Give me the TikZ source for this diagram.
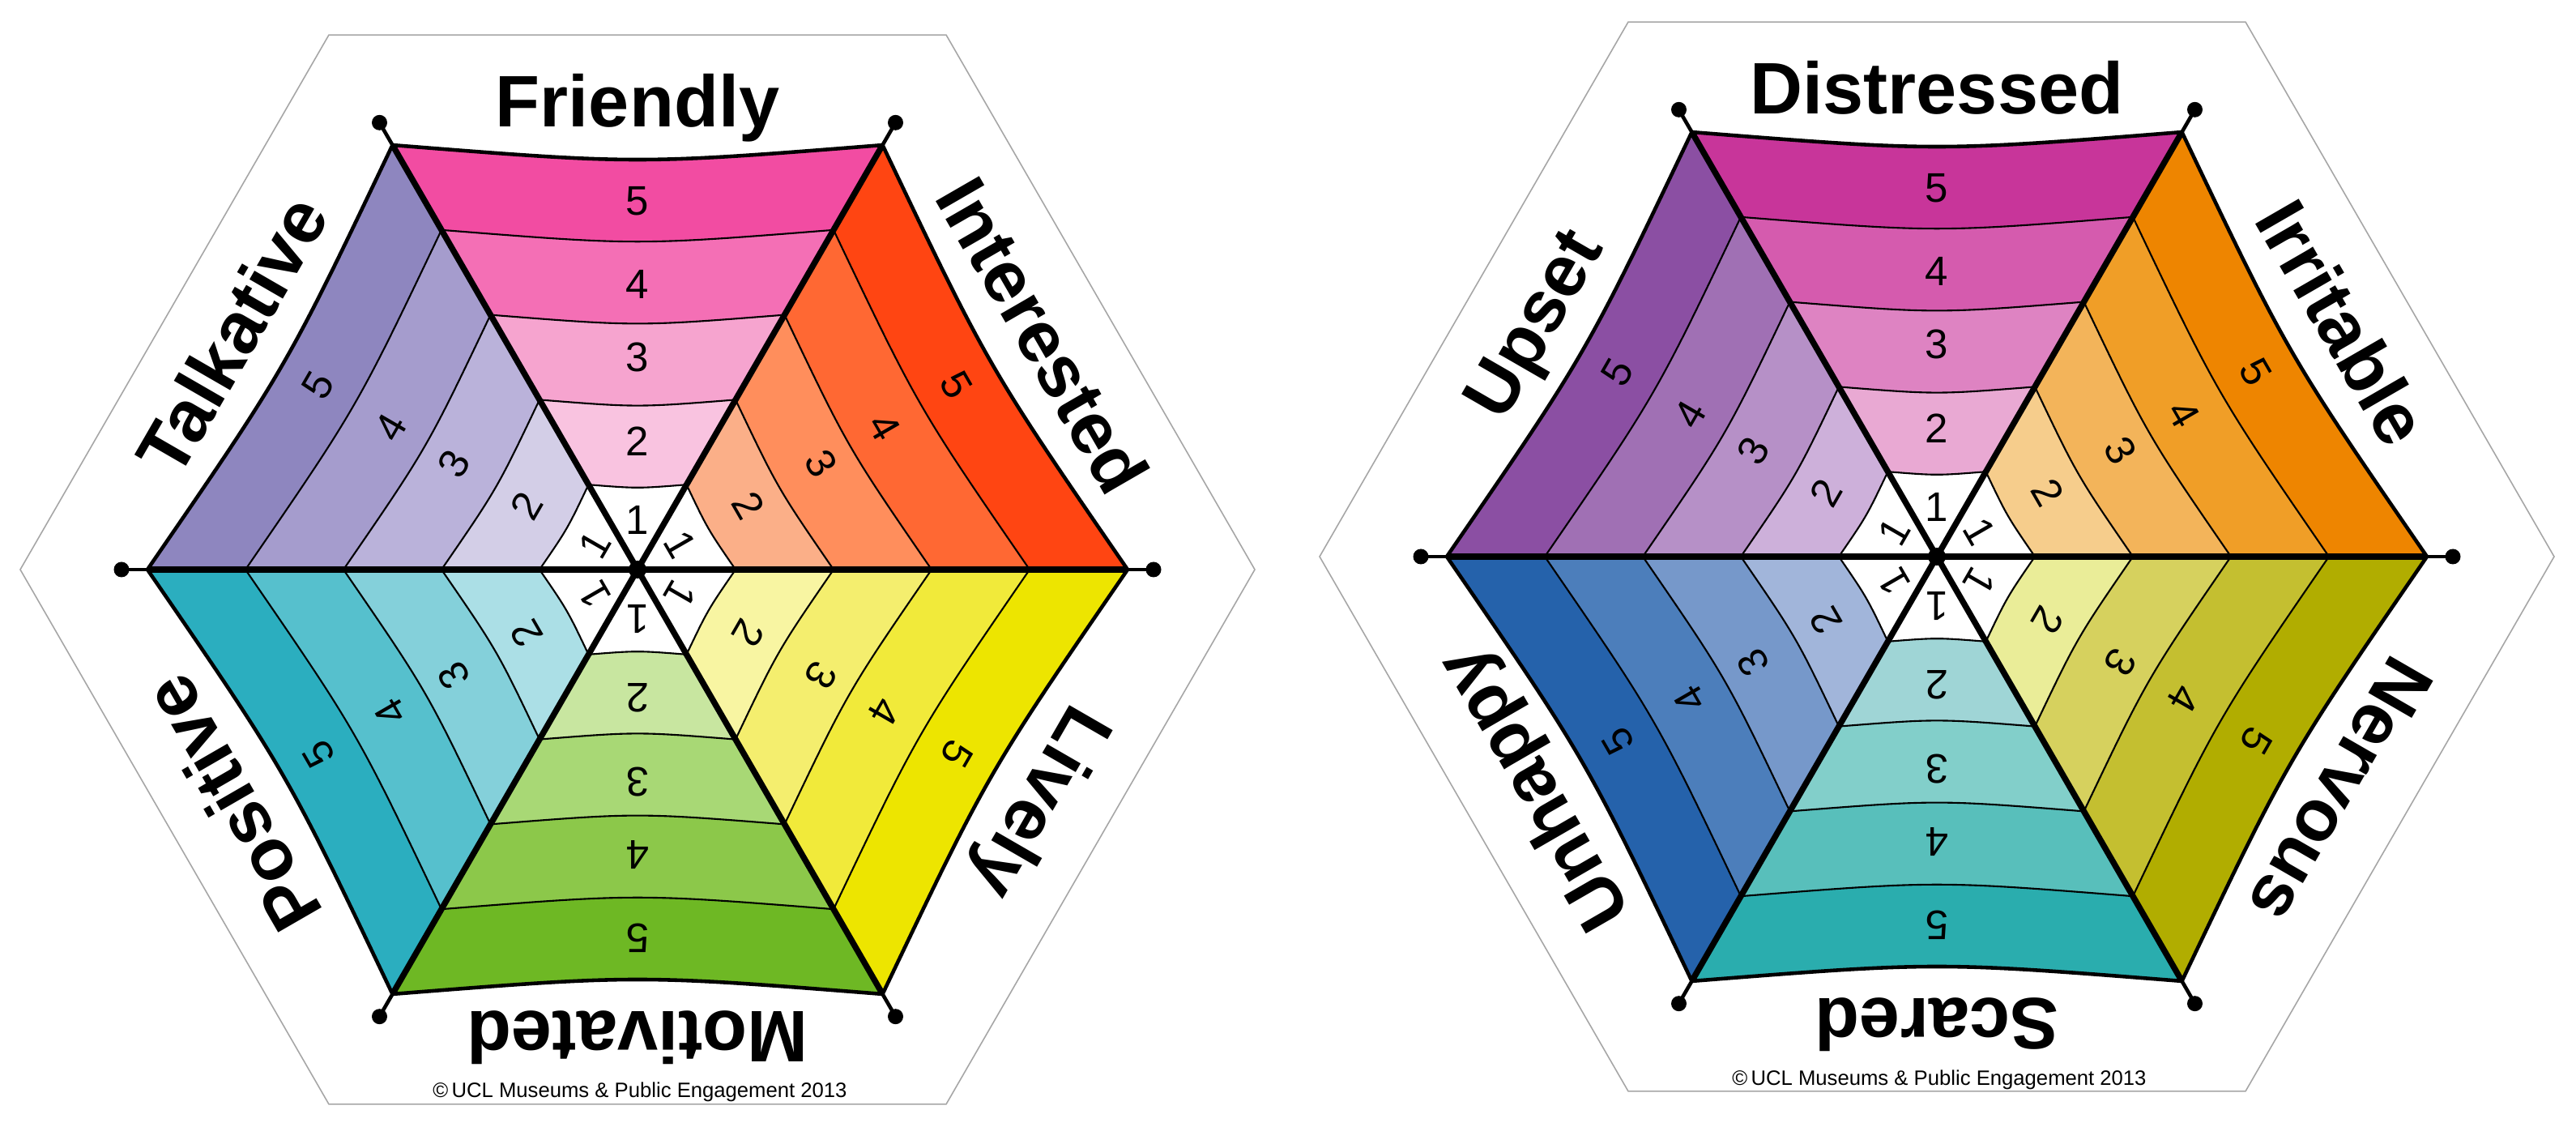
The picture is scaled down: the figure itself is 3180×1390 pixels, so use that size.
\documentclass[tikz,border=0pt]{standalone}
\usepackage{fontspec}
\setmainfont{Liberation Sans}
% left wheel colours
\definecolor{Fr1}{HTML}{FFFFFF}\definecolor{Fr2}{HTML}{F9C3E0}\definecolor{Fr3}{HTML}{F6A4CF}\definecolor{Fr4}{HTML}{F46FB5}\definecolor{Fr5}{HTML}{F24CA2}
\definecolor{In1}{HTML}{FFFFFF}\definecolor{In2}{HTML}{FBAF88}\definecolor{In3}{HTML}{FF8E5C}\definecolor{In4}{HTML}{FF6833}\definecolor{In5}{HTML}{FF4512}
\definecolor{Li1}{HTML}{FFFFFF}\definecolor{Li2}{HTML}{F8F5A2}\definecolor{Li3}{HTML}{F4EE6E}\definecolor{Li4}{HTML}{F1EA3A}\definecolor{Li5}{HTML}{EDE500}
\definecolor{Mo1}{HTML}{FFFFFF}\definecolor{Mo2}{HTML}{C8E6A0}\definecolor{Mo3}{HTML}{A8D875}\definecolor{Mo4}{HTML}{8CC84A}\definecolor{Mo5}{HTML}{6EB824}
\definecolor{Po1}{HTML}{FFFFFF}\definecolor{Po2}{HTML}{ABDFE6}\definecolor{Po3}{HTML}{84D0DA}\definecolor{Po4}{HTML}{56C0CD}\definecolor{Po5}{HTML}{2BAEBF}
\definecolor{Ta1}{HTML}{FFFFFF}\definecolor{Ta2}{HTML}{D3CEE7}\definecolor{Ta3}{HTML}{BAB2DA}\definecolor{Ta4}{HTML}{A59CCD}\definecolor{Ta5}{HTML}{8E86BF}
% right wheel colours
\definecolor{Di1}{HTML}{FFFFFF}\definecolor{Di2}{HTML}{E9A9D3}\definecolor{Di3}{HTML}{DE83C2}\definecolor{Di4}{HTML}{D55BAE}\definecolor{Di5}{HTML}{C8359A}
\definecolor{Ir1}{HTML}{FFFFFF}\definecolor{Ir2}{HTML}{F6CD8C}\definecolor{Ir3}{HTML}{F3B45A}\definecolor{Ir4}{HTML}{F09E27}\definecolor{Ir5}{HTML}{EE8500}
\definecolor{Ne1}{HTML}{FFFFFF}\definecolor{Ne2}{HTML}{EAED98}\definecolor{Ne3}{HTML}{D6D15E}\definecolor{Ne4}{HTML}{C4BF30}\definecolor{Ne5}{HTML}{B1AD00}
\definecolor{Sc1}{HTML}{FFFFFF}\definecolor{Sc2}{HTML}{9FD5D6}\definecolor{Sc3}{HTML}{82CFCA}\definecolor{Sc4}{HTML}{58BFBB}\definecolor{Sc5}{HTML}{2AADAE}
\definecolor{Un1}{HTML}{FFFFFF}\definecolor{Un2}{HTML}{A1B5DA}\definecolor{Un3}{HTML}{7698CA}\definecolor{Un4}{HTML}{4C7EBB}\definecolor{Un5}{HTML}{2562AB}
\definecolor{Up1}{HTML}{FFFFFF}\definecolor{Up2}{HTML}{CDB0DA}\definecolor{Up3}{HTML}{B690C7}\definecolor{Up4}{HTML}{A070B4}\definecolor{Up5}{HTML}{8B4FA3}

\newcommand{\hexwheel}[4]{%
 \begin{scope}[shift={(#2,#3)}]
  \coordinate (#1-c) at (0,0);
  \draw[framehex] (0:762) -- (60:762) -- (120:762) -- (180:762) -- (240:762) -- (300:762) -- cycle;
  \foreach \ang/\txt/\col [count=\si] in {#4} {
    \foreach \k in {1,...,5} {
      \pgfmathsetmacro{\fout}{\k*0.2}
      \pgfmathsetmacro{\finn}{(\k-1)*0.2}
      \fill[fill=\col\k] (\ang-30:\finn*605) -- (\ang-30:\fout*605)
          .. controls (\ang:\fout*500) .. (\ang+30:\fout*605)
          -- (\ang+30:\finn*605)
          .. controls (\ang:\finn*500) .. (\ang-30:\finn*605) -- cycle;
    }
    \foreach \k in {1,...,4} {
      \draw[bandline] (\ang-30:\k*121) .. controls (\ang:\k*100) .. (\ang+30:\k*121);
    }
    \draw[rimline] (\ang-30:605) .. controls (\ang:500) .. (\ang+30:605);
    \foreach \k/\dd in {1/61,2/158,3/262,4/352,5/455} {
      \node[numtxt, rotate=\ang-90] (#1-n\si-\k) at (\ang:\dd) {\k};
    }
    \node[labtxt, rotate=\ang-90] (#1-lab\si) at (\ang:546) {\txt};
  }
  \foreach \a in {0,60,...,300} {
    \draw[spokeline] (#1-c) -- (\a:605);
    \draw[stubline] (\a:603) -- (\a:637);
    \fill (\a:637) circle (9.5);
  }
  \fill (#1-c) circle (11);
  \node[copytxt] (#1-copy) at (3,-652) {\textcopyright\,UCL Museums \& Public Engagement 2013};
 \end{scope}}

\begin{document}
\begin{tikzpicture}[x=0.01cm,y=0.01cm,
  spokeline/.style={line width=2.1pt},
  stubline/.style={line width=1.3pt},
  rimline/.style={line width=1.3pt},
  bandline/.style={line width=0.6pt},
  framehex/.style={draw=black!35, line width=0.45pt},
  labtxt/.style={font=\fontsize{25.6}{28}\selectfont\bfseries, anchor=base, inner sep=0pt},
  numtxt/.style={font=\fontsize{14.5}{16}\selectfont, inner sep=0pt},
  copytxt/.style={font=\fontsize{7.3}{9}\selectfont, anchor=base, inner sep=0pt}]
\useasboundingbox (0,0) rectangle (3180,1390);
\fill[white] (0,0) rectangle (3180,1390);
\hexwheel{L}{787}{687}{90/Friendly/Fr, 30/Interested/In, -30/Lively/Li, -90/Motivated/Mo, -150/Positive/Po, 150/Talkative/Ta}
\hexwheel{R}{2391}{703}{90/Distressed/Di, 30/Irritable/Ir, -30/Nervous/Ne, -90/Scared/Sc, -150/Unhappy/Un, 150/Upset/Up}
\end{tikzpicture}
\end{document}
